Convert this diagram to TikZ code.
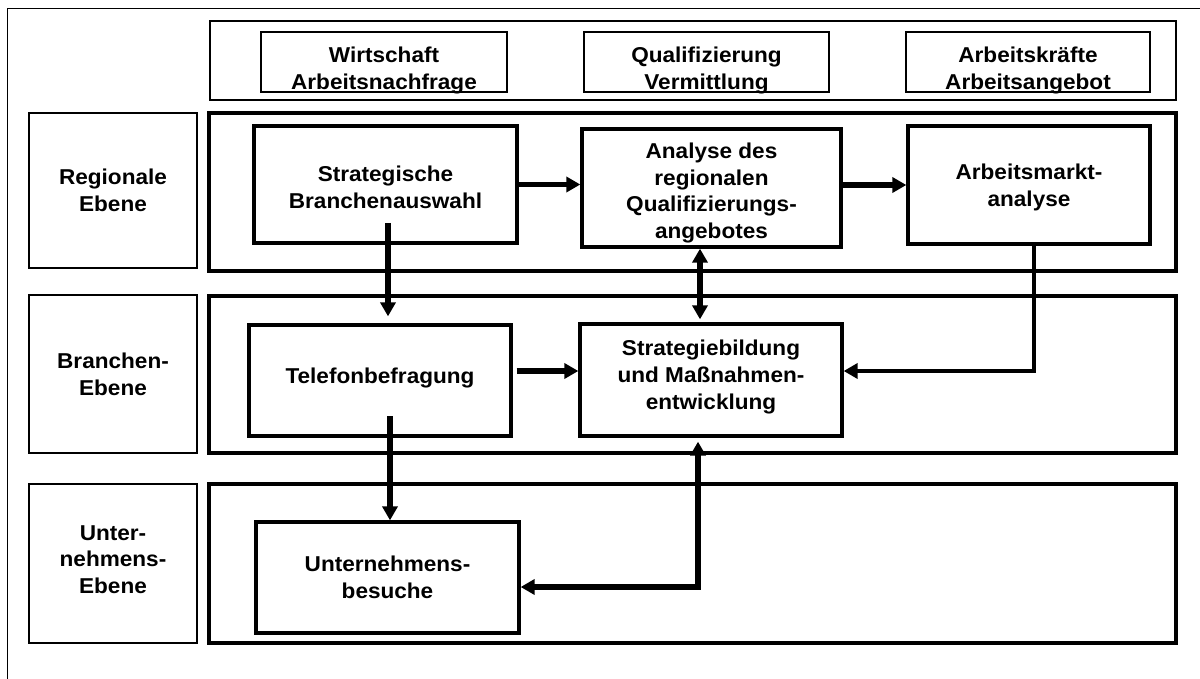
\documentclass[tikz,border=0pt]{standalone}
\usepackage{fontspec}
\setmainfont{Liberation Sans}[FakeStretch=1.05]
\usetikzlibrary{arrows.meta,calc}
\begin{document}
\begin{tikzpicture}[x=1pt,y=-1pt,
  txt/.style={font=\bfseries\fontsize{21.5}{26.7}\selectfont, align=center, inner sep=0pt},
  thinbox/.style={draw, line width=1.8pt, inner sep=0pt, fill=white},
  hbox/.style={draw, line width=2.2pt, inner sep=0pt},
  thickbox/.style={draw, line width=3.3pt, inner sep=0pt, fill=white},
  tip/.tip={Triangle[length=14pt,width=15pt]},
  arr/.style={line width=5.5pt, -tip},
  arrtwo/.style={line width=5.5pt, tip-tip}]
\useasboundingbox (0,0) rectangle (1200,679);
\fill[white] (0,0) rectangle (1200,679);
% outer frame (only top and left edges visible)
\draw[line width=1.8pt] (7.5,700) -- (7.5,8.5) -- (1220,8.5);
% header
\node[thinbox, minimum width=966pt, minimum height=79pt] (head) at (693,60.5) {};
\node[hbox, minimum width=246pt, minimum height=60pt] (w1) at (384,62) {};
\node[hbox, minimum width=245pt, minimum height=60pt] (w2) at (706.5,62) {};
\node[hbox, minimum width=244pt, minimum height=60pt] (w3) at (1028,62) {};
\node[txt] (t1) at (384,70.6) {Wirtschaft\\Arbeitsnachfrage};
\node[txt] (t2) at (706.5,70.6) {Qualifizierung\\Vermittlung};
\node[txt] (t3) at (1028,70.6) {Arbeitskräfte\\Arbeitsangebot};
% level labels
\node[thinbox, minimum width=168pt, minimum height=155pt] (L1) at (113,190.5) {};
\node[thinbox, minimum width=168pt, minimum height=158pt] (L2) at (113,374) {};
\node[thinbox, minimum width=168pt, minimum height=159pt] (L3) at (113,563.5) {};
\node[txt] (L1t) at ($(L1)+(0,0)$) {Regionale\\Ebene};
\node[txt] (L2t) at ($(L2)+(0,0)$) {Branchen-\\Ebene};
\node[txt] (L3t) at ($(L3)+(0,-4)$) {Unter-\\nehmens-\\Ebene};
% level containers
\node[thickbox, minimum width=967pt, minimum height=158pt] (R1) at (692.5,192) {};
\node[thickbox, minimum width=967pt, minimum height=157pt] (R2) at (692.5,374.5) {};
\node[thickbox, minimum width=967pt, minimum height=159pt] (R3) at (692.5,563.5) {};
% inner boxes
\node[thickbox, minimum width=263pt, minimum height=117pt] (sb) at (385.5,184.5) {};
\node[thickbox, minimum width=259pt, minimum height=118pt] (an) at (711.5,188) {};
\node[thickbox, minimum width=242pt, minimum height=118pt] (am) at (1029,185) {};
\node[thickbox, minimum width=262pt, minimum height=111pt] (tb) at (380,380.5) {};
\node[thickbox, minimum width=262pt, minimum height=112pt] (sm) at (711,380) {};
\node[thickbox, minimum width=263pt, minimum height=111pt] (ub) at (387.5,577.5) {};
\node[txt] (sbt) at ($(sb)+(0,2.5)$) {Strategische\\Branchenauswahl};
\node[txt] (ant) at ($(an)+(0,5)$) {Analyse des\\regionalen\\Qualifizierungs-\\angebotes};
\node[txt] (amt) at ($(am)+(0,2.5)$) {Arbeitsmarkt-\\analyse};
\node[txt] (tbt) at ($(tb)+(0,-3)$) {Telefonbefragung};
\node[txt] (smt) at ($(sm)+(0,-3)$) {Strategiebildung\\und Maßnahmen-\\entwicklung};
\node[txt] (ubt) at ($(ub)+(0,0)$) {Unternehmens-\\besuche};
% connectors
\draw[arr] (sb.east) -- (sb.east -| an.west);
\draw[arr] (an.east |- am.west) -- (am.west);
\coordinate (a3s) at (388,223);
\draw[arr, shorten >=7pt] (a3s) -- (a3s |- tb.north);
\coordinate (a4s) at (390,416);
\draw[arr] (a4s) -- (a4s |- ub.north);
\draw[arr] ($(tb.east)+(4,-9.5)$) -- ($(sm.west)+(0,-9)$);
\draw[arrtwo] ($(an.south)+(-11.5,0)$) -- ($(sm.north)+(-11,-3)$);
\draw[arr, line width=4.2pt] ($(am.south)+(5,0)$) |- ($(sm.east)+(0,-9)$);
\draw[arrtwo] ($(ub.east)+(0,9.5)$) -| ($(sm.south)+(-13,4)$);
\end{tikzpicture}
\end{document}
